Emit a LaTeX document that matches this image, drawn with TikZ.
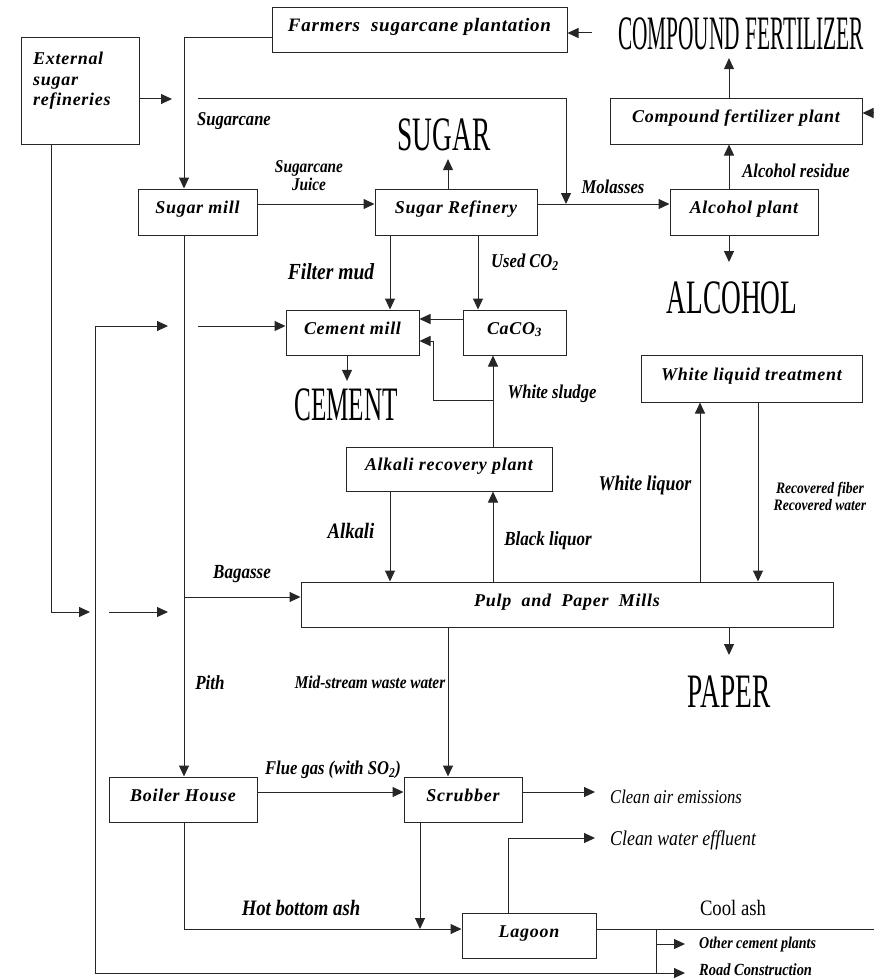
\documentclass[tikz,border=0pt]{standalone}
\usepackage{fontspec}
\usepackage{graphicx}
\setmainfont{Liberation Serif}
\newfontfamily\boxfont[LetterSpace=4]{Liberation Serif}
\newfontfamily\flowfont[FakeStretch=0.85]{Liberation Serif}
\newfontfamily\prodfont[FakeStretch=0.57]{Liberation Serif}
\usetikzlibrary{arrows.meta}

\tikzset{
  unit/.style={draw=black!85, line width=1pt, inner sep=2pt,
    font=\boxfont\bfseries\itshape\fontsize{18}{20}\selectfont,
    text height=11pt, text depth=8pt},
  flow/.style={draw=black!85, line width=1pt, -{Triangle[length=11pt,width=10pt]}},
  pipe/.style={draw=black!85, line width=1pt},
  lbl/.style={inner sep=0pt, font=\flowfont\bfseries\itshape\fontsize{#1}{#1}\selectfont},
  lbl/.default=19.5,
  lblit/.style={inner sep=0pt, font=\flowfont\itshape\fontsize{#1}{#1}\selectfont},
  lblit/.default=19.5,
  product/.style={inner sep=0pt, outer sep=8pt, font=\prodfont\fontsize{48}{48}\selectfont},
}

\begin{document}
\begin{tikzpicture}[x=1pt,y=-1pt]
\useasboundingbox (0,0) rectangle (874,979);

% plants and units
\node[unit, minimum width=295, minimum height=45, font=\boxfont\bfseries\itshape\fontsize{19}{20}\selectfont] (farm) at (419.5,30.5) {Farmers\ \ sugarcane plantation};
\node[unit, minimum width=118, minimum height=106] (ext) at (80,91) {};
\node[anchor=north west, align=left, inner sep=0pt,
  font=\boxfont\bfseries\itshape\fontsize{18}{20.5}\selectfont] (exttext) at (33,52) {External\\sugar\\refineries};
\node[unit, minimum width=119, minimum height=46] (mill) at (197.5,212) {Sugar mill};
\node[unit, minimum width=162, minimum height=46] (refin) at (456,212) {Sugar Refinery};
\node[unit, minimum width=148, minimum height=46] (alco) at (744,212) {Alcohol plant};
\node[unit, minimum width=252, minimum height=45] (cfp) at (736,121.5) {Compound fertilizer plant};
\node[unit, minimum width=133, minimum height=45] (cement) at (352.5,332.5) {Cement mill};
\node[unit, minimum width=103, minimum height=45] (caco) at (514.5,332.5) {CaCO\textsubscript{3}};
\node[unit, minimum width=221, minimum height=47] (wlt) at (751.5,378.5) {White liquid treatment};
\node[unit, minimum width=206, minimum height=44] (alkali) at (449,469) {Alkali recovery plant};
\node[unit, minimum width=532, minimum height=45] (pulp) at (567,604.5) {Pulp\ \ and\ \ Paper\ \ Mills};
\node[unit, minimum width=148, minimum height=45] (boiler) at (183,799.5) {Boiler House};
\node[unit, minimum width=118, minimum height=45] (scrub) at (463,799.5) {Scrubber};
\node[unit, minimum width=134, minimum height=45] (lagoon) at (529,935.5) {Lagoon};

% products
\node[product] (sugar) at (444,135) {SUGAR};
\node[product] (cfert) at (741,34) {\scalebox{0.78}[1]{COMPOUND FERTILIZER}};
\node[product] (alcohol) at (732,298) {ALCOHOL};
\node[product] (cementp) at (346,405) {\scalebox{0.92}[1]{CEMENT}};
\node[product] (paper) at (729,692) {PAPER};

% junctions, columns and rows
\coordinate (caneTop) at (184,38);
\coordinate (extTip) at (172,99);
\coordinate (refTop) at (198,99);
\coordinate (molJ) at (566,204);
\coordinate (mainRow) at (0,204);
\coordinate (sugarCol) at (448,0);
\coordinate (alcCol) at (729,0);
\coordinate (alcTip) at (729,262);
\coordinate (cfpIn) at (874,113);
\coordinate (farmIn) at (592,33);
\coordinate (mudCol) at (390,0);
\coordinate (co2Col) at (478,0);
\coordinate (cacoRow) at (0,319);
\coordinate (sludgeCol) at (493,0);
\coordinate (sludgeJ) at (493,400);
\coordinate (sludgeUp) at (433,341);
\coordinate (cemCol) at (347,0);
\coordinate (cemIn) at (198,326);
\coordinate (loopTip) at (168,326);
\coordinate (loopCol) at (95,0);
\coordinate (ashCol) at (656,0);
\coordinate (ashRow) at (0,929);
\coordinate (ashEnd) at (874,929);
\coordinate (roadRow) at (0,973);
\coordinate (roadTip) at (685,973);
\coordinate (otherTip) at (685,944);
\coordinate (extCol) at (51,0);
\coordinate (extTip2) at (90,612);
\coordinate (bagIn) at (109,612);
\coordinate (bagTip) at (168,612);
\coordinate (bagRow) at (0,597);
\coordinate (wlCol) at (700,0);
\coordinate (recCol) at (758,0);
\coordinate (paperTip) at (729,655);
\coordinate (flueRow) at (0,792);
\coordinate (airTip) at (595,792);
\coordinate (scrubCol) at (420,0);
\coordinate (waterTip) at (595,838);
\coordinate (waterCol) at (508,0);

% sugar side
\draw[flow] (farm.west |- caneTop) -- (caneTop) -- (caneTop |- mill.north);
\draw[flow] (ext.east |- extTip) -- (extTip);
\draw[flow] (refTop) -| (molJ);
\draw[flow] (mill.east |- mainRow) -- (refin.west |- mainRow);
\draw[flow] (refin.east |- mainRow) -- (alco.west |- mainRow);
\draw[flow] (refin.north -| sugarCol) -- (sugar.south -| sugarCol);
\draw[flow] (alco.north -| alcCol) -- (cfp.south -| alcCol);
\draw[flow] (cfp.north -| alcCol) -- (cfert.south -| alcCol);
\draw[flow] (alco.south -| alcCol) -- (alcTip);
\draw[flow] (cfpIn) -- (cfpIn -| cfp.east);
\draw[flow] (farmIn) -- (farmIn -| farm.east);

% cement side
\draw[flow] (refin.south -| mudCol) -- (cement.north -| mudCol);
\draw[flow] (refin.south -| co2Col) -- (caco.north -| co2Col);
\draw[flow] (caco.west |- cacoRow) -- (cement.east |- cacoRow);
\draw[flow] (alkali.north -| sludgeCol) -- (caco.south -| sludgeCol);
\draw[flow] (sludgeJ) -| (sludgeUp) -- (sludgeUp -| cement.east);
\draw[flow] (cement.south -| cemCol) -- (cementp.north -| cemCol);
\draw[flow] (cemIn) -- (cemIn -| cement.west);

% ash loop
\draw[pipe] (lagoon.east |- ashRow) -- (ashEnd);
\draw[pipe] (ashRow -| ashCol) -- (roadRow -| ashCol);
\draw[flow] (otherTip -| ashCol) -- (otherTip);
\draw[flow] (roadRow -| ashCol) -- (roadTip);
\draw[flow] (roadRow -| ashCol) -| (loopCol |- loopTip) -- (loopTip);

% pulp and paper
\draw[flow] (ext.south -| extCol) |- (extTip2);
\draw[flow] (bagIn) -- (bagTip);
\draw[flow] (mill.south -| caneTop) -- (boiler.north -| caneTop);
\draw[flow] (bagRow -| caneTop) -- (pulp.west |- bagRow);
\draw[flow] (alkali.south -| mudCol) -- (pulp.north -| mudCol);
\draw[flow] (pulp.north -| sludgeCol) -- (alkali.south -| sludgeCol);
\draw[flow] (pulp.north -| wlCol) -- (wlt.south -| wlCol);
\draw[flow] (wlt.south -| recCol) -- (pulp.north -| recCol);
\draw[flow] (pulp.south -| alcCol) -- (paperTip);

% boiler, scrubber, lagoon
\draw[flow] (pulp.south -| sugarCol) -- (scrub.north -| sugarCol);
\draw[flow] (boiler.east |- flueRow) -- (scrub.west |- flueRow);
\draw[flow] (scrub.east |- airTip) -- (airTip);
\draw[flow] (scrub.south -| scrubCol) -- (ashRow -| scrubCol);
\draw[flow] (boiler.south -| caneTop) |- (lagoon.west |- ashRow);
\draw[flow] (lagoon.north -| waterCol) |- (waterTip);

% stream labels
\node[lbl] (lcane) at (234,121) {Sugarcane};
\node[lbl=18, align=center] (ljuice) at (309,176) {Sugarcane\\Juice};
\node[lbl] (lmol) at (613,187) {Molasses};
\node[lbl] (lres) at (796,171) {Alcohol residue};
\node[lbl=23] (lmud) at (331,272) {Filter mud};
\node[lbl] (lco2) at (525,262) {Used CO\textsubscript{2}};
\node[lbl] (lsludge) at (552,394) {White sludge};
\node[lbl=21] (lwl) at (645,485) {White liquor};
\node[lbl=16, align=center] (lrec) at (820,496) {Recovered fiber\\[1pt]Recovered water};
\node[lbl=22] (lalk) at (351,531) {Alkali};
\node[lbl=20] (lblack) at (548,541) {Black liquor};
\node[lbl=20] (lbag) at (242,574) {Bagasse};
\node[lbl=20] (lpith) at (210,683) {Pith};
\node[lbl=18] (lmid) at (370,682) {Mid-stream waste water};
\node[lbl] (lflue) at (333,770) {Flue gas (with SO\textsubscript{2})};
\node[lbl=22] (lhot) at (301,908) {Hot bottom ash};
\node[lblit, anchor=west] (lair) at (610,797) {Clean air emissions};
\node[lblit=21, anchor=west] (lwater) at (610,840) {Clean water effluent};
\node[inner sep=0pt, font=\flowfont\fontsize{22}{22}\selectfont] (lcool) at (733,908) {Cool ash};
\node[lbl=16.5, anchor=west] (lother) at (699,945) {Other cement plants};
\node[lbl=17, anchor=west] (lroad) at (699,970) {Road Construction};
\end{tikzpicture}
\end{document}
